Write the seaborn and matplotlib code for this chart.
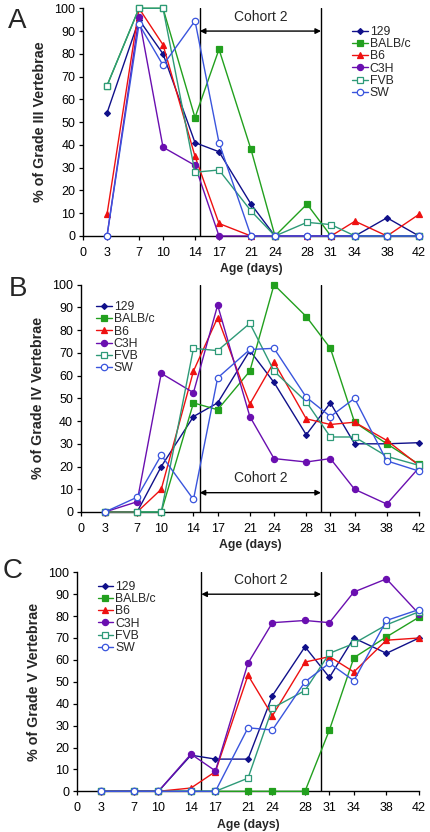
#!/usr/bin/env python3
"""Percentage of grade III / IV / V vertebrae by age for six mouse strains."""
import matplotlib
matplotlib.use('Agg')
import matplotlib.pyplot as plt
import pandas as pd
import seaborn as sns

ages = [3, 7, 10, 14, 17, 21, 24, 28, 31, 34, 38, 42]
age_ticks = [0, 3, 7, 10, 14, 17, 21, 24, 28, 31, 34, 38, 42]
strains = ['129', 'BALB/c', 'B6', 'C3H', 'FVB', 'SW']

# Grade III
g3_129 = [54, 95, 80, 41, 37, 14, 0, 0, 0, 0, 8, 0]
g3_balbc = [66, 100, 100, 52, 82, 38, 0, 14, 0, 0, 0, 0]
g3_b6 = [9.5, 100, 84, 35, 5.5, 0, 0, 0, 0, 6.5, 0, 9.5]
g3_c3h = [0, 96, 39, 31, 0, 0, 0, 0, 0, 0, 0, 0]
g3_fvb = [66, 100, 100, 28, 29, 11, 0, 6, 5, 0, 0, 0]
g3_sw = [0, 93, 75, 94.5, 41, 0, 0, 0, 0, 0, 0, 0]

# Grade IV
g4_129 = [0, 0, 20, 42, 48, 71, 57, 34, 48, 30, 30, 30.5]
g4_balbc = [0, 0, 0, 48, 45, 62, 100, 86, 72, 39.5, 30, 21]
g4_b6 = [0, 0, 10, 62, 85.5, 47.5, 66, 41, 38.5, 39.5, 31.5, 20.5]
g4_c3h = [0, 4.5, 61, 52.5, 91, 42, 23.5, 22, 23.5, 10, 3.5, 19.5]
g4_fvb = [0, 0, 0, 72, 71, 83, 62, 48.5, 33, 33, 24.5, 20.5]
g4_sw = [0, 6.5, 25, 5.5, 59, 71.5, 72, 50.5, 42, 50, 22.5, 18]

# Grade V
g5_129 = [0, 0, 0, 16.5, 14.7, 14.7, 43.7, 66, 52, 70, 63, 70]
g5_balbc = [0, 0, 0, 0, 0, 0, 0, 0, 28, 61, 70.5, 79.5]
g5_b6 = [0, 0, 0, 1.5, 9, 53, 34.5, 59, 61.5, 54.5, 69, 70]
g5_c3h = [0, 0, 0, 17, 9.3, 58.5, 77, 78, 77, 91, 97, 81]
g5_fvb = [0, 0, 0, 0, 0, 6, 38, 46, 63, 67.5, 76, 82]
g5_sw = [0, 0, 0, 0, 0, 29, 28, 50, 58.5, 50.5, 78, 83]

colors = {'129': '#10108a', 'BALB/c': '#22a01e', 'B6': '#ee1111',
          'C3H': '#6a0fb0', 'FVB': '#2e9a78', 'SW': '#3a55dd'}
markers = {'129': 'D', 'BALB/c': 's', 'B6': '^', 'C3H': 'o', 'FVB': 's', 'SW': 'o'}
msize = {'129': 3.0, 'BALB/c': 4.4, 'B6': 4.6, 'C3H': 4.4, 'FVB': 4.4, 'SW': 4.6}
hollow = {'FVB', 'SW'}

panels = [
    ('A', 'Grade III', [g3_129, g3_balbc, g3_b6, g3_c3h, g3_fvb, g3_sw]),
    ('B', 'Grade IV', [g4_129, g4_balbc, g4_b6, g4_c3h, g4_fvb, g4_sw]),
    ('C', 'Grade V', [g5_129, g5_balbc, g5_b6, g5_c3h, g5_fvb, g5_sw]),
]

# layout in figure pixels (431 x 832): left, right, top, bottom
boxes = [(83, 419, 8.3, 236), (80.7, 419, 284.7, 512), (77, 419, 572.3, 791.3)]
cohort_lines = [(14.6, 29.75), (14.77, 29.83), (15.27, 29.97)]
arrow_y = [90, 8.5, 90]
legend_anchor = [(0.775, 0.96), (0.02, 0.965), (0.035, 1.0)]
letter_pos = [(17, 21), (18, 289), (13, 571)]

sns.set_style('ticks')
plt.rcParams['font.family'] = ['Liberation Sans', 'DejaVu Sans']

W, H = 431, 832
fig = plt.figure(figsize=(W / 100, H / 100), dpi=100)

for i, (letter, grade, series) in enumerate(panels):
    l, r, t, b = boxes[i]
    ax = fig.add_axes([l / W, 1 - b / H, (r - l) / W, (b - t) / H])

    df = pd.DataFrame({
        'age': ages * len(strains),
        'pct': [v for s in series for v in s],
        'strain': [s for s in strains for _ in ages],
    })

    for strain in strains:
        sub = df[df['strain'] == strain]
        c = colors[strain]
        sns.lineplot(
            data=sub, x='age', y='pct', ax=ax, color=c, label=strain,
            marker=markers[strain], markersize=msize[strain],
            markerfacecolor='white' if strain in hollow else c,
            markeredgecolor=c, markeredgewidth=0.9, linewidth=1.0,
            clip_on=False, zorder=3,
        )

    ax.set_xlim(0, 42)
    ax.set_ylim(0, 100)
    ax.set_xticks(age_ticks)
    ax.set_yticks(range(0, 101, 10))
    ax.tick_params(labelsize=9, length=3, width=0.9, colors='black')
    ax.tick_params(axis='x', pad=5)
    ax.tick_params(axis='y', pad=2.5)
    for sp in ('top', 'right'):
        ax.spines[sp].set_visible(False)
    for sp in ('left', 'bottom'):
        ax.spines[sp].set_linewidth(1.0)
        ax.spines[sp].set_color('black')

    # cohort 2 window
    x0, x1 = cohort_lines[i]
    for xv in (x0, x1):
        ax.axvline(xv, color='black', linewidth=1.0, zorder=2)
    ay = arrow_y[i]
    ax.annotate('', xy=(x0, ay), xytext=(x1, ay),
                arrowprops=dict(arrowstyle='<|-|>', color='black', lw=1.0,
                                mutation_scale=8, shrinkA=0, shrinkB=0))
    ax.text((x0 + x1) / 2, ay + 3.2, 'Cohort 2', ha='center', va='bottom',
            fontsize=10)

    ax.set_xlabel('Age (days)', fontsize=8.8, fontweight='bold', labelpad=3)
    ax.set_ylabel(f'% of {grade} Vertebrae', fontsize=10.3, fontweight='bold',
                  labelpad=5)

    ax.legend(loc='upper left', bbox_to_anchor=legend_anchor[i],
              frameon=False, fontsize=8.8, handlelength=1.3,
              handletextpad=0.15, labelspacing=0.02, borderpad=0.2)

    lx, ly = letter_pos[i]
    fig.text(lx / W, 1 - ly / H, letter, fontsize=20, ha='center', va='center')

fig.savefig('out.png', dpi=100)
